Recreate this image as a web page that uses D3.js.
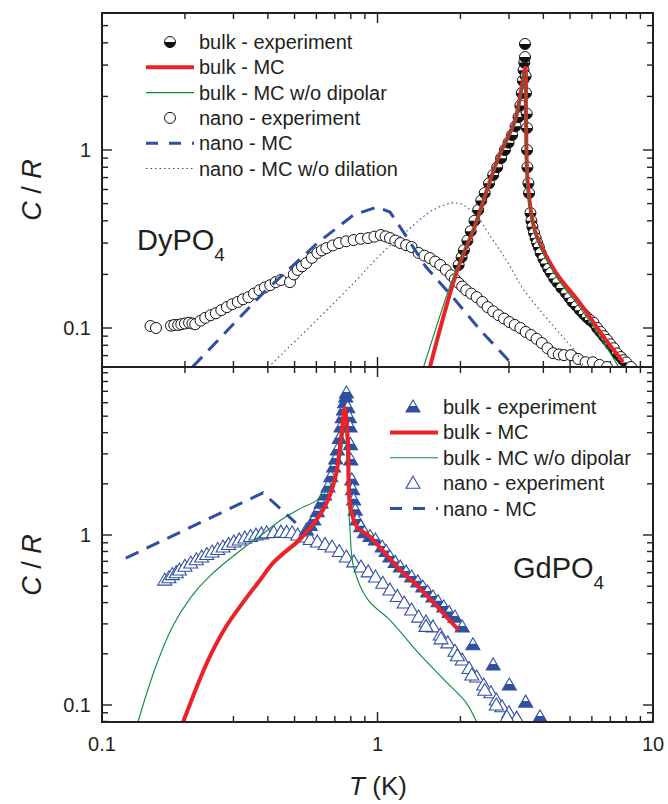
<!DOCTYPE html>
<html><head><meta charset="utf-8">
<script src="https://cdn.jsdelivr.net/npm/d3@7"></script>
<style>body{margin:0;background:#fff}svg{display:block}text{font-family:Arial,"Liberation Sans",Helvetica,sans-serif;fill:#231f20}</style>
</head><body>
<svg id="c" width="668" height="804"></svg>
<script>
// ---------------- DATA ----------------
// Top panel: DyPO4  [T (K), C/R]
const dyBulkExp = [[1.97,0.226],[2.02,0.25],[2.06,0.274],[2.12,0.31],[2.18,0.35],[2.25,0.40],[2.32,0.46],[2.38,0.52],[2.45,0.573],[2.54,0.65],[2.63,0.724],[2.72,0.80],[2.81,0.90],[2.90,1.0],[2.99,1.10],[3.08,1.214],[3.17,1.36],[3.25,1.53],[3.30,1.78],[3.34,2.09],[3.37,2.45],[3.39,2.81],[3.41,3.1],[3.43,3.33],[3.43,3.94],
  [3.45,2.6],[3.46,2.09],[3.48,1.6],[3.49,1.33],[3.49,1.0],[3.50,0.80],[3.53,0.65],[3.55,0.573],[3.59,0.443],[3.62,0.40],[3.65,0.37],[3.70,0.342],[3.75,0.32],[3.80,0.30],[3.85,0.285],[3.91,0.264],[4.0,0.245],[4.08,0.23],[4.17,0.215],[4.26,0.204],[4.38,0.19],[4.5,0.18],[4.65,0.168],[4.83,0.157],[4.97,0.148],[5.1,0.14],[5.27,0.133],[5.43,0.126],[5.6,0.12],[5.75,0.115],[5.9,0.111],[6.08,0.107],[6.27,0.1],[6.45,0.095],[6.63,0.09],[6.81,0.0857],[7.0,0.081],[7.2,0.077],[7.4,0.072],[7.64,0.0687],[7.8,0.066],[8.0,0.064],[8.32,0.0604]];
const dyBulkMC = [[1.55,0.0604],[1.95,0.212],[2.25,0.369],[2.5,0.60],[2.74,0.90],[2.95,1.15],[3.16,1.47],[3.34,2.26],[3.44,2.9],[3.46,1.5],[3.52,0.62],[3.75,0.342],[4.45,0.204],[5.43,0.138],[6.62,0.089],[7.78,0.0645]];
const dyBulkMCnoDip = [[1.47,0.0604],[1.85,0.179],[2.0,0.24],[2.25,0.37],[2.5,0.60],[2.74,0.90],[2.95,1.15],[3.16,1.47],[3.34,2.2],[3.43,2.8],[3.46,1.5],[3.50,0.62],[3.75,0.33],[4.45,0.195],[5.43,0.13],[6.62,0.083],[7.5,0.0604]];
const dyNanoExp = [[0.150,0.1026],[0.157,0.100],[0.178,0.103],[0.183,0.104],[0.189,0.104],[0.194,0.105],[0.200,0.106],[0.207,0.107],[0.213,0.106],[0.218,0.105],[0.228,0.110],[0.237,0.114],[0.248,0.118],[0.259,0.121],[0.271,0.126],[0.284,0.131],[0.297,0.136],[0.311,0.140],[0.325,0.145],[0.340,0.149],[0.356,0.156],[0.373,0.163],[0.390,0.169],[0.408,0.174],[0.427,0.181],[0.446,0.186],[0.481,0.181],[0.497,0.200],[0.513,0.212],[0.532,0.222],[0.552,0.232],[0.578,0.248],[0.605,0.264],[0.628,0.273],[0.652,0.281],[0.688,0.291],[0.725,0.300],[0.77,0.307],[0.819,0.312],[0.87,0.317],[0.924,0.320],[0.975,0.326],[1.028,0.333],[1.07,0.327],[1.11,0.320],[1.16,0.310],[1.21,0.300],[1.27,0.292],[1.33,0.285],[1.41,0.264],[1.48,0.255],[1.55,0.247],[1.62,0.236],[1.69,0.226],[1.77,0.212],[1.85,0.198],[1.91,0.188],[1.97,0.179],[2.03,0.171],[2.10,0.163],[2.19,0.156],[2.29,0.149],[2.40,0.140],[2.51,0.131],[2.63,0.124],[2.75,0.118],[2.88,0.113],[3.01,0.108],[3.15,0.104],[3.30,0.100],[3.45,0.095],[3.61,0.0913],[3.78,0.087],[3.95,0.0823],[4.14,0.077],[4.34,0.0722],[4.55,0.071],[4.75,0.0704],[5.04,0.0704],[5.35,0.067],[5.69,0.0642],[6.05,0.0642],[6.4,0.062],[6.81,0.0604]];
const dyNanoMC = [[0.213,0.0604],[0.384,0.157],[0.605,0.300],[0.819,0.432],[0.996,0.478],[1.11,0.448],[1.248,0.342],[1.50,0.220],[1.91,0.144],[2.36,0.0974],[3.15,0.0604]];
const dyNanoMCnoDil = [[0.402,0.0604],[0.603,0.111],[0.819,0.179],[1.04,0.264],[1.29,0.355],[1.59,0.460],[1.94,0.504],[2.24,0.443],[2.58,0.325],[2.98,0.232],[3.34,0.170],[3.97,0.121],[4.71,0.0890],[5.28,0.0724],[5.57,0.0620]];
// Bottom panel: GdPO4
const gdBulkExp = [[0.552,1.07],[0.57,1.14],[0.587,1.225],[0.605,1.37],[0.624,1.54],[0.643,1.72],[0.661,1.92],[0.677,2.2],[0.693,2.51],[0.705,2.8],[0.715,3.16],[0.727,3.7],[0.737,4.32],[0.745,4.9],[0.753,5.44],[0.760,6.0],[0.767,6.49],[0.771,6.84],
  [0.78,5.6],[0.79,4.9],[0.795,4.32],[0.798,3.4],[0.800,2.76],[0.807,2.11],[0.812,1.85],[0.819,1.61],[0.83,1.4],[0.843,1.225],[0.87,1.12],[0.897,1.03],[0.94,0.98],[0.983,0.935],[1.04,0.850],[1.075,0.8],[1.11,0.742],[1.16,0.69],[1.21,0.648],[1.27,0.605],[1.33,0.566],[1.40,0.53],[1.46,0.494],[1.52,0.462],[1.59,0.432],[1.66,0.405],[1.74,0.377],[1.82,0.35],[1.91,0.329],[2.03,0.288],[2.22,0.226],[2.63,0.172],[3.01,0.131],[3.45,0.104],[3.89,0.0851]];
const gdBulkMC = [[0.197,0.0794],[0.22,0.126],[0.244,0.187],[0.28,0.284],[0.330,0.415],[0.375,0.544],[0.421,0.694],[0.520,0.935],[0.569,1.10],[0.643,1.46],[0.704,2.19],[0.738,3.77],[0.760,5.58],[0.782,3.47],[0.794,1.54],[0.843,1.11],[0.924,1.0],[1.04,0.816],[1.21,0.622],[1.41,0.494],[1.69,0.362],[1.97,0.276]];
const gdBulkMCnoDip = [[0.135,0.0794],[0.155,0.16],[0.180,0.288],[0.21,0.43],[0.244,0.566],[0.330,0.850],[0.37,0.97],[0.446,1.225],[0.52,1.42],[0.605,1.61],[0.684,2.02],[0.738,3.04],[0.760,4.75],[0.782,1.77],[0.794,1.11],[0.819,0.648],[0.924,0.415],[1.11,0.316],[1.41,0.202],[1.79,0.135],[2.10,0.103],[2.29,0.0794]];
const gdNanoExp = [[0.169,0.543],[0.175,0.56],[0.180,0.585],[0.186,0.60],[0.191,0.622],[0.200,0.655],[0.210,0.684],[0.220,0.715],[0.230,0.742],[0.240,0.768],[0.251,0.794],[0.263,0.822],[0.275,0.850],[0.288,0.88],[0.301,0.910],[0.315,0.935],[0.330,0.960],[0.346,0.98],[0.362,1.0],[0.379,1.015],[0.396,1.03],[0.42,1.035],[0.446,1.04],[0.468,1.035],[0.490,1.03],[0.513,1.0],[0.537,0.973],[0.57,0.94],[0.605,0.910],[0.645,0.88],[0.684,0.850],[0.727,0.80],[0.771,0.742],[0.82,0.695],[0.871,0.648],[0.925,0.607],[0.983,0.566],[1.045,0.52],[1.11,0.475],[1.18,0.435],[1.25,0.398],[1.33,0.362],[1.41,0.329],[1.50,0.308],[1.59,0.288],[1.69,0.258],[1.80,0.232],[1.91,0.207],[2.03,0.184],[2.15,0.164],[2.29,0.146],[2.43,0.131],[2.58,0.118],[2.70,0.107],[2.83,0.0976],[3.0,0.090],[3.20,0.0837],
  [1.5,0.29],[1.7,0.245],[1.95,0.195],[2.2,0.15],[2.45,0.122],[2.7,0.1],[2.95,0.085]];
const gdNanoMC = [[0.122,0.732],[0.384,1.77],[0.505,1.18]];
// Axis ticks
const xMajor = [0.1, 1, 10];
const xLabels = ["0.1", "1", "10"];
const yLabelsTop = [[0.1,"0.1"],[1,"1"]];
const yLabelsBot = [[0.1,"0.1"],[1,"1"]];
const legendTop = ["bulk - experiment","bulk - MC","bulk - MC w/o dipolar","nano - experiment","nano - MC","nano - MC w/o dilation"];
const legendBot = ["bulk - experiment","bulk - MC","bulk - MC w/o dipolar","nano - experiment","nano - MC"];

// ---------------- LAYOUT ----------------
const svg = d3.select("#c");
const L = 102, R = 653, T0 = 13, MID = 367, B = 722;
const x = d3.scaleLog().domain([0.1, 10]).range([L, R]);
const yTop = d3.scaleLog().domain([Math.pow(10,(150-MID)/178), Math.pow(10,(150-T0)/178)]).range([MID, T0]);
const yBot = d3.scaleLog().domain([Math.pow(10,(535-B)/170), Math.pow(10,(535-MID)/170)]).range([B, MID]);
const RED = "#ec2227", GREEN = "#0b8a3c", BLUE = "#2f4fa2", INK = "#231f20";

const defs = svg.append("defs");
defs.append("clipPath").attr("id","clipT").append("rect").attr("x",L).attr("y",T0).attr("width",R-L).attr("height",MID-T0);
defs.append("clipPath").attr("id","clipB").append("rect").attr("x",L).attr("y",MID).attr("width",R-L).attr("height",B-MID);

function minorVals(lo, hi){
  const v=[]; for(let e=-3;e<=2;e++){for(let m=1;m<10;m++){const t=m*Math.pow(10,e); if(t>=lo*0.999 && t<=hi*1.001) v.push(t);}} return v;
}
const isMajor = t => Math.abs(Math.log10(t)-Math.round(Math.log10(t)))<1e-6;

function drawTicks(y, yMin, yMax, yA, yB){
  const g = svg.append("g").attr("stroke",INK).attr("stroke-width",1.4);
  minorVals(0.1,10).forEach(t=>{
    const len = isMajor(t)?10:6, xx=x(t);
    g.append("line").attr("x1",xx).attr("x2",xx).attr("y1",yB).attr("y2",yB-len);
    g.append("line").attr("x1",xx).attr("x2",xx).attr("y1",yA).attr("y2",yA+len);
  });
  minorVals(yMin,yMax).forEach(t=>{
    const len = isMajor(t)?10:6, yy=y(t);
    g.append("line").attr("x1",L).attr("x2",L+len).attr("y1",yy).attr("y2",yy);
    g.append("line").attr("x1",R).attr("x2",R-len).attr("y1",yy).attr("y2",yy);
  });
}
drawTicks(yTop, yTop.domain()[0], yTop.domain()[1], T0, MID);
drawTicks(yBot, yBot.domain()[0], yBot.domain()[1], MID, B);

// ---------------- MARKS ----------------
function lineGen(y, smooth){ const l = d3.line().x(d=>x(d[0])).y(d=>y(d[1])); return smooth ? l.curve(d3.curveCatmullRom.alpha(0.5)) : l; }
function halfCircle(g, data, y, r){
  const s = g.selectAll(null).data(data).join("g").attr("transform",d=>`translate(${x(d[0])},${y(d[1])})`);
  s.append("circle").attr("r",r).attr("fill","#fff").attr("stroke","#111").attr("stroke-width",1);
  s.append("path").attr("d",`M${-r},0A${r},${r} 0 0 0 ${r},0Z`).attr("fill","#111");
}
function openCircle(g, data, y, r){
  g.selectAll(null).data(data).join("circle").attr("cx",d=>x(d[0])).attr("cy",d=>y(d[1])).attr("r",r)
   .attr("fill","#fff").attr("stroke","#111").attr("stroke-width",1);
}
const triPath = "M0,-7L7,5L-7,5Z";
const triFill = "M-3.5,-1L3.5,-1L7,5L-7,5Z";
function triangles(g, data, y, filled){
  const s = g.selectAll(null).data(data).join("g").attr("transform",d=>`translate(${x(d[0])},${y(d[1])})`);
  s.append("path").attr("d",triPath).attr("fill","#fff").attr("stroke",BLUE).attr("stroke-width",1.1);
  if(filled) s.append("path").attr("d",triFill).attr("fill",BLUE);
}

// Top panel
const gt = svg.append("g").attr("clip-path","url(#clipT)");
openCircle(gt, dyNanoExp, yTop, 5.5);
gt.append("path").datum(dyNanoMCnoDil).attr("d",lineGen(yTop,true)).attr("fill","none").attr("stroke",BLUE).attr("stroke-width",1.1).attr("stroke-dasharray","1.5,3");
gt.append("path").datum(dyNanoMC).attr("d",lineGen(yTop,false)).attr("fill","none").attr("stroke",BLUE).attr("stroke-width",3).attr("stroke-dasharray","14,9");
halfCircle(gt, dyBulkExp, yTop, 5.5);
gt.append("path").datum(dyBulkMC).attr("d",lineGen(yTop,true)).attr("fill","none").attr("stroke",RED).attr("stroke-width",4).attr("stroke-linejoin","round");
gt.append("path").datum(dyBulkMCnoDip).attr("d",lineGen(yTop,true)).attr("fill","none").attr("stroke",GREEN).attr("stroke-width",1.1);

// Bottom panel
const gb = svg.append("g").attr("clip-path","url(#clipB)");
triangles(gb, gdNanoExp, yBot, false);
triangles(gb, gdBulkExp, yBot, true);
gb.append("path").datum(gdBulkMCnoDip).attr("d",lineGen(yBot,true)).attr("fill","none").attr("stroke",GREEN).attr("stroke-width",1.1);
gb.append("path").datum(gdBulkMC).attr("d",lineGen(yBot,true)).attr("fill","none").attr("stroke",RED).attr("stroke-width",4).attr("stroke-linejoin","round");
gb.append("path").datum(gdNanoMC).attr("d",lineGen(yBot,false)).attr("fill","none").attr("stroke",BLUE).attr("stroke-width",3).attr("stroke-dasharray","14,9");

// Frames
svg.append("rect").attr("x",L).attr("y",T0).attr("width",R-L).attr("height",B-T0).attr("fill","none").attr("stroke",INK).attr("stroke-width",2);
svg.append("line").attr("x1",L).attr("x2",R).attr("y1",MID).attr("y2",MID).attr("stroke",INK).attr("stroke-width",2);

// Tick labels
xMajor.forEach((t,i)=>svg.append("text").attr("x",x(t)).attr("y",751).attr("text-anchor","middle").attr("font-size",20).text(xLabels[i]));
yLabelsTop.forEach(d=>svg.append("text").attr("x",91).attr("y",yTop(d[0])+7).attr("text-anchor","end").attr("font-size",20).text(d[1]));
yLabelsBot.forEach(d=>svg.append("text").attr("x",91).attr("y",yBot(d[0])+7).attr("text-anchor","end").attr("font-size",20).text(d[1]));

// Axis titles
function cr(cy){
  const t = svg.append("text").attr("transform",`translate(41,${cy}) rotate(-90)`).attr("text-anchor","middle").attr("font-size",27);
  t.append("tspan").attr("font-style","italic").text("C");
  t.append("tspan").text(" / ");
  t.append("tspan").attr("font-style","italic").text("R");
}
cr(190); cr(565);
const tk = svg.append("text").attr("x",378).attr("y",795).attr("text-anchor","middle").attr("font-size",26);
tk.append("tspan").attr("font-style","italic").text("T");
tk.append("tspan").text(" (K)");

// Compound labels
function compound(xx, yy, base){
  const t = svg.append("text").attr("x",xx).attr("y",yy).attr("font-size",29);
  t.append("tspan").text(base);
  t.append("tspan").attr("font-size",19).attr("dy",11).text("4");
}
compound(137, 250, "DyPO");
compound(513, 578, "GdPO");

// Legends
const lt = svg.append("g");
legendTop.forEach((s,i)=>lt.append("text").attr("x",199).attr("y",42+25.3*i).attr("dominant-baseline","central").attr("font-size",20).text(s));
(function(){
  const yy = i=>42+25.3*i;
  const g1 = lt.append("g").attr("transform",`translate(170,${yy(0)})`);
  g1.append("circle").attr("r",5.5).attr("fill","#fff").attr("stroke","#111");
  g1.append("path").attr("d","M-5.5,0A5.5,5.5 0 0 0 5.5,0Z").attr("fill","#111");
  lt.append("line").attr("x1",146).attr("x2",194).attr("y1",yy(1)).attr("y2",yy(1)).attr("stroke",RED).attr("stroke-width",4);
  lt.append("line").attr("x1",146).attr("x2",194).attr("y1",yy(2)).attr("y2",yy(2)).attr("stroke",GREEN).attr("stroke-width",1.1);
  lt.append("circle").attr("cx",170).attr("cy",yy(3)).attr("r",5.5).attr("fill","#fff").attr("stroke","#111");
  lt.append("line").attr("x1",146).attr("x2",194).attr("y1",yy(4)).attr("y2",yy(4)).attr("stroke",BLUE).attr("stroke-width",3).attr("stroke-dasharray","12,11");
  lt.append("line").attr("x1",146).attr("x2",194).attr("y1",yy(5)).attr("y2",yy(5)).attr("stroke",BLUE).attr("stroke-width",1.1).attr("stroke-dasharray","1.5,3");
})();
const lb = svg.append("g");
legendBot.forEach((s,i)=>lb.append("text").attr("x",443).attr("y",407+25.4*i).attr("dominant-baseline","central").attr("font-size",20).text(s));
(function(){
  const yy = i=>407+25.4*i;
  const g1 = lb.append("g").attr("transform",`translate(413,${yy(0)})`);
  g1.append("path").attr("d",triPath).attr("fill","#fff").attr("stroke",BLUE).attr("stroke-width",1.1);
  g1.append("path").attr("d",triFill).attr("fill",BLUE);
  lb.append("line").attr("x1",390).attr("x2",438).attr("y1",yy(1)).attr("y2",yy(1)).attr("stroke",RED).attr("stroke-width",4);
  lb.append("line").attr("x1",390).attr("x2",438).attr("y1",yy(2)).attr("y2",yy(2)).attr("stroke",GREEN).attr("stroke-width",1.1);
  lb.append("path").attr("transform",`translate(413,${yy(3)})`).attr("d",triPath).attr("fill","#fff").attr("stroke",BLUE).attr("stroke-width",1.1);
  lb.append("line").attr("x1",390).attr("x2",438).attr("y1",yy(4)).attr("y2",yy(4)).attr("stroke",BLUE).attr("stroke-width",3).attr("stroke-dasharray","12,11");
})();
</script>
</body></html>
